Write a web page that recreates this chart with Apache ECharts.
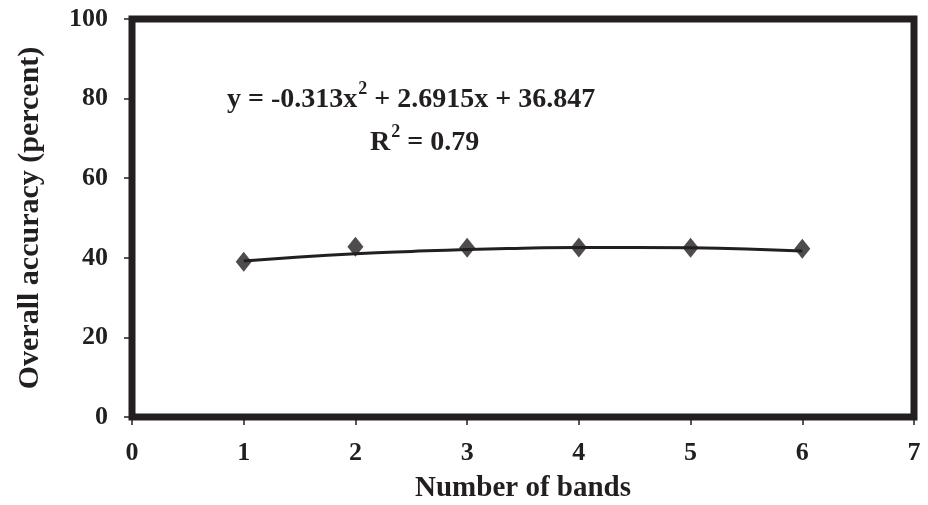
<!DOCTYPE html>
<html>
<head>
<meta charset="utf-8">
<style>
  html, body { margin: 0; padding: 0; background: #ffffff; }
  #chart { width: 928px; height: 505px; }
</style>
<script src="https://cdn.jsdelivr.net/npm/echarts@6/dist/echarts.min.js"></script>
</head>
<body>
<div id="chart"></div>
<script>
// Observed overall accuracy for each number of bands
const bands = [1, 2, 3, 4, 5, 6];
const accuracy = [39.0, 42.8, 42.5, 42.6, 42.5, 42.3];

// Fitted polynomial trend line, sampled along the band axis
const trendX = [1, 1.5, 2, 2.5, 3, 3.5, 4, 4.5, 5, 5.5, 6];
const trendY = [39.2, 40.2, 41.0, 41.6, 42.1, 42.4, 42.6, 42.6, 42.5, 42.2, 41.7];

// Axis ticks
const xTicks = [0, 1, 2, 3, 4, 5, 6, 7];
const yTicks = [0, 20, 40, 60, 80, 100];

const ink = '#231f20';
const serif = '"Liberation Serif", "Times New Roman", serif';

const chart = echarts.init(document.getElementById('chart'), null, { renderer: 'canvas' });

const eqRich = {
  b: { fontFamily: serif, fontWeight: 'bold', fontSize: 28, fill: ink, verticalAlign: 'bottom' },
  s: { fontFamily: serif, fontWeight: 'bold', fontSize: 18, fill: ink, verticalAlign: 'top', padding: [0, 0, 16, 1] }
};

chart.setOption({
  animation: false,
  backgroundColor: '#ffffff',
  grid: {
    left: 132, right: 14, top: 19, bottom: 88,
    outerBoundsMode: 'none',
    containLabel: false,
    show: true,
    borderColor: ink,
    borderWidth: 7,
    backgroundColor: 'transparent'
  },
  xAxis: {
    type: 'value',
    min: xTicks[0],
    max: xTicks[xTicks.length - 1],
    interval: 1,
    name: 'Number of bands',
    nameLocation: 'middle',
    nameGap: 57,
    nameTextStyle: { fontFamily: serif, fontWeight: 'bold', fontSize: 29, color: ink },
    axisLine: { show: false },
    axisTick: { show: true, length: 8, inside: false, lineStyle: { color: ink, width: 1.5 } },
    axisLabel: { fontFamily: serif, fontWeight: 'bold', fontSize: 26, color: ink, margin: 23 },
    splitLine: { show: false }
  },
  yAxis: {
    type: 'value',
    min: yTicks[0],
    max: yTicks[yTicks.length - 1],
    interval: 20,
    name: 'Overall accuracy (percent)',
    nameLocation: 'middle',
    nameGap: 87,
    nameTextStyle: { fontFamily: serif, fontWeight: 'bold', fontSize: 30, color: ink },
    axisLine: { show: false },
    axisTick: { show: true, length: 8, lineStyle: { color: ink, width: 1.5 } },
    axisLabel: { fontFamily: serif, fontWeight: 'bold', fontSize: 26, color: ink, margin: 24 },
    splitLine: { show: false }
  },
  graphic: [
    {
      type: 'text',
      left: 227,
      top: 80,
      style: { text: '{b|y = -0.313x}{s|2}{b| + 2.6915x + 36.847}', rich: eqRich }
    },
    {
      type: 'text',
      left: 370,
      top: 123,
      style: { text: '{b|R}{s|2}{b| = 0.79}', rich: eqRich }
    }
  ],
  series: [
    {
      name: 'Trend',
      type: 'line',
      data: trendX.map((x, i) => [x, trendY[i]]),
      smooth: true,
      showSymbol: false,
      lineStyle: { color: ink, width: 3 },
      z: 2
    },
    {
      name: 'Accuracy',
      type: 'scatter',
      data: bands.map((x, i) => [x, accuracy[i]]),
      symbol: 'diamond',
      symbolSize: [16, 20],
      itemStyle: { color: ink },
      z: 3
    }
  ]
});
</script>
</body>
</html>
